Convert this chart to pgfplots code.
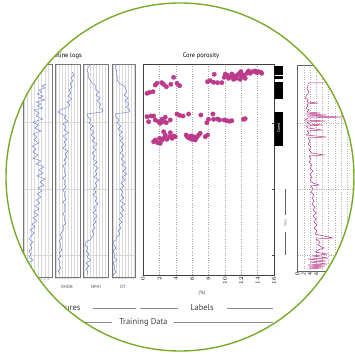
\documentclass[border=0pt]{standalone}
\usepackage{pgfplots}
\pgfplotsset{compat=1.18}
\usepackage{fontspec}
\setmainfont{PT Sans}
\definecolor{poro}{RGB}{188,58,140}
\definecolor{logblue}{RGB}{110,128,222}
\definecolor{ringgreen}{RGB}{122,170,42}
\definecolor{framegray}{RGB}{120,120,120}
\pgfplotsset{
  logpanel/.style={scale only axis, anchor=north west, height=213bp,
    ymin=64, ymax=277, y dir=reverse,
    axis line style={framegray, line width=0.4pt},
    xmajorgrids, ymajorgrids, grid style={black!15, line width=0.3pt},
    ytick={122,189,255}, yticklabels={}, major tick length=0pt,
    xticklabel style={font=\fontsize{2.6}{3}\selectfont, rotate=90, anchor=east, text=black!60, inner sep=0.5pt},
    clip=true},
  logline/.style={logblue, line width=0.45pt, no marks}
}
\begin{document}
\begin{tikzpicture}
\path[use as bounding box] (0,0) rectangle (355bp,356bp);
\begin{scope}
\clip (180bp,179bp) circle (174bp);

% ---------- Wireline logs ----------
\node[anchor=base east, font=\fontsize{6.5}{7}\selectfont, inner sep=0] at (82bp,298bp) {Wireline logs};

\begin{axis}[logpanel, width=29bp, at={(23bp,292bp)}, xmin=23, xmax=52,
  xtick={24,27.5,31,34.5,38,41.5,45,48.5}, xticklabels={0,2,4,6,8,10,12,14}]
\addplot[logline] coordinates {(46,84) (42,86) (45,88) (39,90) (42,92) (37,94) (43,96) (39,98) (45,100) (36,102) (41,104) (37,106) (43,108) (34,110) (39,113) (36,116) (43,119) (33,122) (38,125) (35,128) (41,131) (33,134) (37,137) (34,140) (39,143) (32,146) (36,149) (33,152) (38,155) (33,158) (41,161) (36,164) (44,167) (39,170) (43,173) (37,176) (45,179) (40,182) (44,185) (38,188) (42,191) (37,194) (41,197) (36,200) (40,203) (35,206) (39,209) (34,212) (38,215) (33,218) (37,221) (32,224) (35,227) (30,230) (34,233) (31,236) (29,239) (33,242) (30,245) (32,248) (29,251) (31,254) (29,257) (33,260) (28,263) (31,266) (29,269) (31,272) (30,275)};
\end{axis}

\begin{axis}[logpanel, width=25bp, at={(55bp,292bp)}, xmin=55, xmax=80,
  xtick={56,59,62,65,68,71,74,77}, xticklabels={2,2,2,2,2,2,2,3}]
\addplot[logline] coordinates {(72,72) (74,75) (71,78) (73,81) (70,84) (72,87) (69,90) (71,93) (68,96) (72,99) (67,102) (70,105) (66,108) (60,110) (58,112) (61,114) (66,116) (64,118) (68,121) (63,124) (66,127) (64,130) (69,133) (63,136) (67,139) (64,142) (66,145) (63,148) (68,151) (65,154) (67,157) (64,160) (66,163) (63,166) (65,169) (64,172) (66,175) (63,178) (65,181) (64,184) (66,187) (63,190) (65,193) (64,196) (66,199) (63,202) (65,205) (64,208) (65,211) (63,214) (65,217) (64,220) (66,223) (63,226) (64,229) (62,232) (60,235) (62,238) (59,241) (61,244) (60,247) (62,250) (59,253) (61,256) (58,259) (60,262) (59,265) (61,268) (58,271) (60,274)};
\end{axis}

\begin{axis}[logpanel, width=24.5bp, at={(83.5bp,292bp)}, xmin=83.5, xmax=108,
  xtick={84.5,87.5,90.5,93.5,96.5,99.5,102.5,105.5}, xticklabels={0,1,2,3,4,5,6,7}]
\addplot[logline] coordinates {(90,65) (88,68) (87,71) (89,74) (88,77) (90,80) (92,83) (96,86) (95,89) (99,92) (96,95) (100,98) (97,101) (101,104) (99,107) (103,110) (102,112) (87,114) (88,117) (91,120) (89,123) (93,126) (90,129) (94,132) (91,135) (95,138) (92,141) (97,144) (93,147) (96,150) (92,153) (95,156) (93,159) (97,162) (94,165) (98,168) (95,171) (97,174) (94,177) (99,180) (95,183) (97,186) (94,189) (96,192) (93,195) (97,198) (95,201) (98,204) (94,207) (96,210) (93,213) (97,216) (94,219) (96,222) (93,225) (95,228) (92,231) (94,234) (92,237) (90,240) (86,242) (85,245) (88,248) (86,251) (89,254) (87,257) (91,260) (86,263) (89,266) (86,269) (88,272) (87,275)};
\end{axis}

\begin{axis}[logpanel, width=23bp, at={(112bp,292bp)}, xmin=112, xmax=135,
  xtick={113,116,119,122,125,128,131,134}, xticklabels={4,6,8,1,1,1,1,1}]
\addplot[logline] coordinates {(116,65) (115,68) (117,71) (116,74) (118,77) (117,80) (119,83) (124,86) (126,89) (127,92) (124,95) (128,98) (125,101) (129,104) (126,107) (130,110) (129,112) (115,114) (116,117) (119,120) (117,123) (121,126) (118,129) (122,132) (119,135) (123,138) (120,141) (124,144) (121,147) (123,150) (120,153) (124,156) (121,159) (125,162) (122,165) (126,168) (123,171) (127,174) (122,177) (125,180) (121,183) (124,186) (120,189) (123,192) (121,195) (124,198) (120,201) (125,204) (121,207) (124,210) (120,213) (123,216) (119,219) (122,222) (119,225) (121,228) (118,231) (120,234) (117,237) (116,240) (113,242) (114,245) (116,248) (113,251) (115,254) (114,257) (117,260) (113,263) (115,266) (114,269) (116,272) (113,275)};
\end{axis}

\node[font=\fontsize{4.5}{5}\selectfont, text=black!70] at (37bp,69bp) {GR};
\node[font=\fontsize{4.5}{5}\selectfont, text=black!70] at (67bp,69bp) {RHOB};
\node[font=\fontsize{4.5}{5}\selectfont, text=black!70] at (96bp,69bp) {NPHI};
\node[font=\fontsize{4.5}{5}\selectfont, text=black!70] at (123bp,69bp) {DT};

% ---------- Core porosity ----------
\node[anchor=base, font=\fontsize{6.5}{7}\selectfont, inner sep=0] at (201bp,298bp) {Core porosity};
\begin{axis}[scale only axis, anchor=north west, at={(143bp,292bp)},
  width=131bp, height=211bp,
  xmin=0, xmax=16, ymin=64, ymax=275, y dir=reverse,
  axis line style={black!75, line width=0.6pt},
  xtick={0,2,...,16}, xmajorgrids, grid style={dotted, black!35, line width=0.4pt},
  xticklabel style={rotate=90, anchor=east, font=\fontsize{6}{6}\selectfont, inner sep=1.5pt},
  ytick={123,189,255}, yticklabels={}, ytick pos=right,
  tick align=inside, major tick length=2.5bp, xtick style={draw=none},
  tick style={black!75}]
\addplot[only marks, mark=*, mark size=2.2pt, mark options={fill=poro, draw=poro}] coordinates {
(0.49,93.3) (0.81,92.3) (1.22,91.7) (1.5,85) (1.7,83.3) (2.3,82.7) (2.5,84.3) (2.85,86.7) (3.4,84.3) (3.74,77.3) (4.15,83.3) (4.47,85.7)
(7.89,81.7) (8.21,80.7) (8.7,74.3) (8.62,82.3) (9.1,82.7) (9.63,82.7) (9.92,77.3) (10.04,74.3) (10.24,75) (10.45,78.3) (10.65,76.7) (10.85,74) (11.06,79.3) (11.14,76) (11.38,78.3) (11.54,75) (11.79,73.3) (11.87,79.3) (11.95,71.7) (12.07,76.7) (12.28,75) (12.48,78.3) (12.68,73.3) (12.89,71) (13.09,73.3) (13.41,71.7) (13.7,71) (13.9,72.7) (14.1,71.7) (14.39,72.3) (14.5,73.3)
(0.49,116.7) (0.69,121.7) (0.98,116) (1.3,116) (1.5,120) (1.91,121.7) (2.11,123.3) (2.32,119.3) (2.52,121.7) (2.72,117.3) (2.85,122.7) (3.33,120) (4.15,114) (4.47,115.3) (4.88,116) (5.57,114) (7.07,115) (7.8,122.7) (8.0,119.3) (8.54,114) (8.62,119.3) (9.1,119) (9.35,120) (9.92,120) (10.24,120.7) (10.57,121.3) (10.85,120.7) (12.28,119.3) (12.48,118.7)
(1.3,141.7) (1.5,140) (1.79,142.7) (2.03,138.3) (2.11,143.3) (2.32,140) (2.52,138.3) (2.52,131.7) (2.72,135) (2.93,139.3) (3.25,136.7) (3.33,132.7) (3.54,138.3) (3.74,136) (3.94,136.7) (5.28,135) (5.45,137.3) (5.69,138.3) (5.85,136) (5.98,139.3) (6.18,136.7) (6.38,140) (6.59,137.3) (6.79,135) (6.99,133.3) (7.6,136.7) (7.89,135)};
\end{axis}
\node[font=\fontsize{5}{5}\selectfont, text=black!70] at (202bp,63bp) {(\%)};

% ---------- Cored intervals ----------
\begin{axis}[scale only axis, anchor=north west, at={(274.3bp,292bp)},
  width=9bp, height=211bp, hide axis,
  xmin=0, xmax=1, ymin=64, ymax=275, y dir=reverse]
\addplot[fill=black, draw=none] coordinates {(0,66) (1,66) (1,75) (0,75)} -- cycle;
\addplot[fill=black, draw=none] coordinates {(0,76.5) (1,76.5) (1,79.5) (0,79.5)} -- cycle;
\addplot[fill=black, draw=none] coordinates {(0,81.7) (1,81.7) (1,99) (0,99)} -- cycle;
\addplot[fill=black, draw=none] coordinates {(0,111.7) (1,111.7) (1,146) (0,146)} -- cycle;
\node[rotate=90, text=white, font=\fontsize{4}{4}\selectfont] at (axis cs:0.5,128) {Cored};
\end{axis}

% ---------- 30 m scale ----------
\draw[black!60, line width=0.4pt] (285.5bp,167bp) -- (285.5bp,141bp);
\draw[black!60, line width=0.4pt] (285.5bp,124bp) -- (285.5bp,101bp);
\node[rotate=90, font=\fontsize{3.5}{4}\selectfont, text=black!60] at (285.5bp,133bp) {30\,m};

% ---------- Right log ----------
\begin{axis}[scale only axis, anchor=north west, at={(297.5bp,291bp)},
  width=74.5bp, height=206bp,
  xmin=297.5, xmax=372, ymin=65, ymax=271, y dir=reverse,
  axis line style={black!60, line width=0.5pt},
  xtick={297.5,303.7,309.9,316.1,322.3,328.5,334.7,340.9,347.1,353.3,359.5,365.7},
  xticklabels={0,2,4,6,,,,,,,,},
  xticklabel style={rotate=90, anchor=east, font=\fontsize{5.5}{6}\selectfont, inner sep=1.5pt},
  xmajorgrids, ymajorgrids, grid style={dotted, black!30, line width=0.35pt},
  ytick={123,189,255}, yticklabels={}, major tick length=0pt]
\addplot[poro, line width=0.5pt, no marks] coordinates {(325,83) (308,83) (308,86) (307,89) (309,92) (307,95) (305,98) (308,100) (307,102) (318,103) (307,104) (308,106) (306,108) (309,110) (307,112) (320,113) (306,114) (326,115) (307,116) (345,117) (308,118) (305,120) (325,121) (307,122) (309,124) (323,125) (306,126) (308,128) (322,130) (307,131) (309,133) (306,135) (326,137) (308,138) (310,141) (308,144) (311,147) (309,150) (312,153) (324,155) (309,156) (311,159) (309,162) (312,165) (310,168) (313,171) (310,174) (312,177) (310,180) (313,183) (319,185) (311,186) (313,189) (311,192) (314,195) (312,198) (314,201) (312,204) (315,207) (313,210) (316,213) (313,216) (316,219) (314,222) (317,225) (314,228) (317,231) (315,234) (333,238) (316,239) (320,242) (318,245) (324,248) (318,250) (315,252) (327,254) (313,256) (328,258) (308,259) (326,261) (310,262) (327,264) (308,265) (325,266) (309,267) (322,268) (308,269)};
\end{axis}

% ---------- section labels ----------
\node[anchor=east, font=\fontsize{8.5}{9}\selectfont, text=black!75] at (84bp,48bp) {Features};
\draw[black!45, line width=0.7pt] (93bp,48bp) -- (136bp,48bp);
\draw[black!45, line width=0.7pt] (140bp,48bp) -- (178bp,48bp);
\node[font=\fontsize{8.5}{9}\selectfont, text=black!75] at (202bp,48bp) {Labels};
\draw[black!45, line width=0.7pt] (227bp,48bp) -- (273bp,48bp);
\draw[black!45, line width=0.7pt] (60bp,34bp) -- (112bp,34bp);
\node[font=\fontsize{8.5}{9}\selectfont, text=black!75] at (143.5bp,34bp) {Training Data};
\draw[black!45, line width=0.7pt] (174bp,34bp) -- (273bp,34bp);
\end{scope}
\draw[ringgreen, line width=1.4bp] (180bp,179bp) circle (174bp);
\end{tikzpicture}
\end{document}
